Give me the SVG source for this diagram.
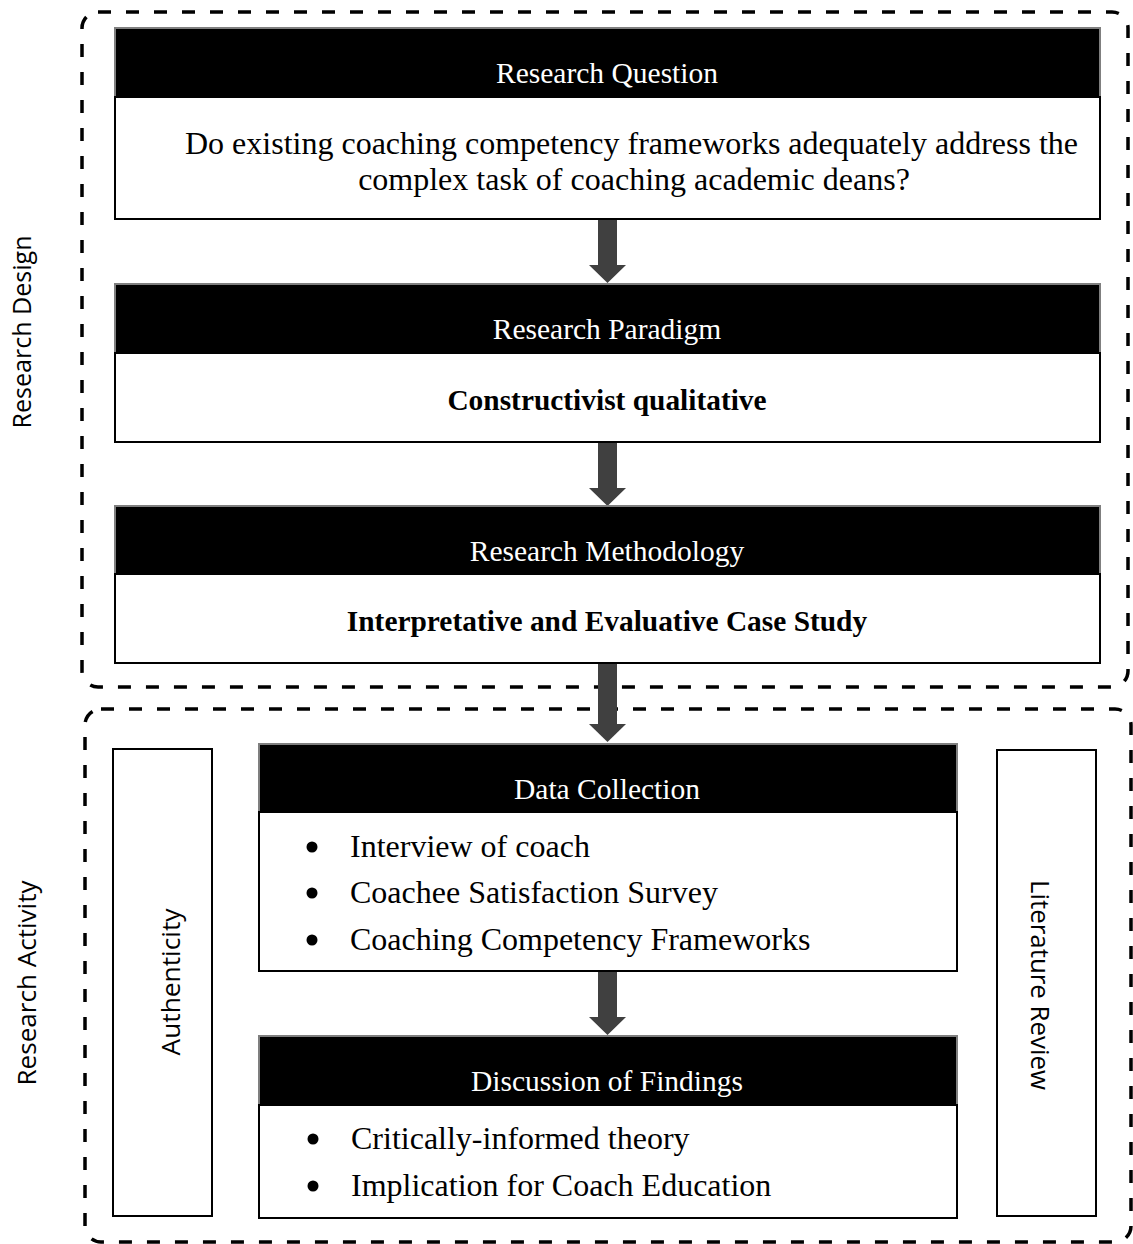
<svg xmlns="http://www.w3.org/2000/svg" width="1133" height="1244" viewBox="0 0 1133 1244">
  <style>
    .frame { fill: none; stroke: #000; stroke-width: 3.5; stroke-dasharray: 13 15; }
    .head { fill: #000; stroke: #7f7f7f; stroke-width: 2; }
    .body { fill: #fff; stroke: #000; stroke-width: 2; }
    .side { fill: #fff; stroke: #000; stroke-width: 2; }
    .htxt { font-family: "Liberation Serif", "Times New Roman", serif; font-size: 29.5px; fill: #fff; text-anchor: middle; }
    .btxt { font-family: "Liberation Serif", "Times New Roman", serif; font-size: 32px; fill: #000; }
    .bold { font-family: "Liberation Serif", "Times New Roman", serif; font-size: 29.4px; font-weight: bold; fill: #000; text-anchor: middle; }
    .lbl { font-family: "Open Sans", "Liberation Sans", sans-serif; font-size: 25px; fill: #000; text-anchor: middle; }
    .arrow { fill: #404040; }
  </style>
  <defs>
    <path id="arr" d="M-9,0 H10 V45 H19 L0.5,63 L-18,45 H-9 Z"/>
  </defs>
  <rect width="1133" height="1244" fill="#fff"/>

  <!-- dashed grouping frames -->
  <g id="frames">
    <rect class="frame" x="82" y="12" width="1046" height="675" rx="16"/>
    <rect class="frame" x="85" y="709" width="1046" height="533" rx="16"/>
  </g>

  <!-- frame labels -->
  <g id="label-design">
    <text class="lbl" transform="translate(31,332) rotate(-90)" textLength="193" lengthAdjust="spacingAndGlyphs">Research Design</text>
  </g>
  <g id="label-activity">
    <text class="lbl" transform="translate(36,983) rotate(-90)" textLength="205" lengthAdjust="spacingAndGlyphs">Research Activity</text>
  </g>

  <!-- connectors -->
  <g id="connectors">
    <use href="#arr" class="arrow" x="607" y="220"/>
    <use href="#arr" class="arrow" x="607" y="443"/>
    <rect class="arrow" x="598" y="664" width="19" height="62"/>
    <path class="arrow" d="M589,724 L626,724 L607.5,742 Z"/>
    <use href="#arr" class="arrow" x="607" y="972"/>
  </g>

  <g id="node-question">
    <rect class="head" x="115" y="28" width="985" height="69"/>
    <text class="htxt" x="607" y="83">Research Question</text>
    <rect class="body" x="115" y="97" width="985" height="122"/>
    <text class="btxt" x="185" y="154">Do existing coaching competency frameworks adequately address the</text>
    <text class="btxt" x="634" y="190" text-anchor="middle">complex task of coaching academic deans?</text>
  </g>

  <g id="node-paradigm">
    <rect class="head" x="115" y="284" width="985" height="69"/>
    <text class="htxt" x="607" y="339">Research Paradigm</text>
    <rect class="body" x="115" y="353" width="985" height="89"/>
    <text class="bold" x="607" y="410">Constructivist qualitative</text>
  </g>

  <g id="node-methodology">
    <rect class="head" x="115" y="506" width="985" height="68"/>
    <text class="htxt" x="607" y="561">Research Methodology</text>
    <rect class="body" x="115" y="574" width="985" height="89"/>
    <text class="bold" x="607" y="631">Interpretative and Evaluative Case Study</text>
  </g>

  <g id="node-authenticity">
    <rect class="side" x="113" y="749" width="99" height="467"/>
    <text class="lbl" transform="translate(180,982) rotate(-90)" textLength="147" lengthAdjust="spacingAndGlyphs">Authenticity</text>
  </g>

  <g id="node-literature">
    <rect class="side" x="997" y="750" width="99" height="466"/>
    <text class="lbl" transform="translate(1031,985) rotate(90)" textLength="210" lengthAdjust="spacingAndGlyphs">Literature Review</text>
  </g>

  <g id="node-data">
    <rect class="head" x="259" y="744" width="698" height="68"/>
    <text class="htxt" x="607" y="799">Data Collection</text>
    <rect class="body" x="259" y="812" width="698" height="159"/>
    <circle cx="312" cy="847" r="5.5"/>
    <text class="btxt" x="350" y="857">Interview of coach</text>
    <circle cx="312" cy="893" r="5.5"/>
    <text class="btxt" x="350" y="903">Coachee Satisfaction Survey</text>
    <circle cx="312" cy="940" r="5.5"/>
    <text class="btxt" x="350" y="950">Coaching Competency Frameworks</text>
  </g>

  <g id="node-findings">
    <rect class="head" x="259" y="1036" width="698" height="69"/>
    <text class="htxt" x="607" y="1091">Discussion of Findings</text>
    <rect class="body" x="259" y="1105" width="698" height="113"/>
    <circle cx="313" cy="1139" r="5.5"/>
    <text class="btxt" x="351" y="1149">Critically-informed theory</text>
    <circle cx="313" cy="1186" r="5.5"/>
    <text class="btxt" x="351" y="1196">Implication for Coach Education</text>
  </g>
</svg>
